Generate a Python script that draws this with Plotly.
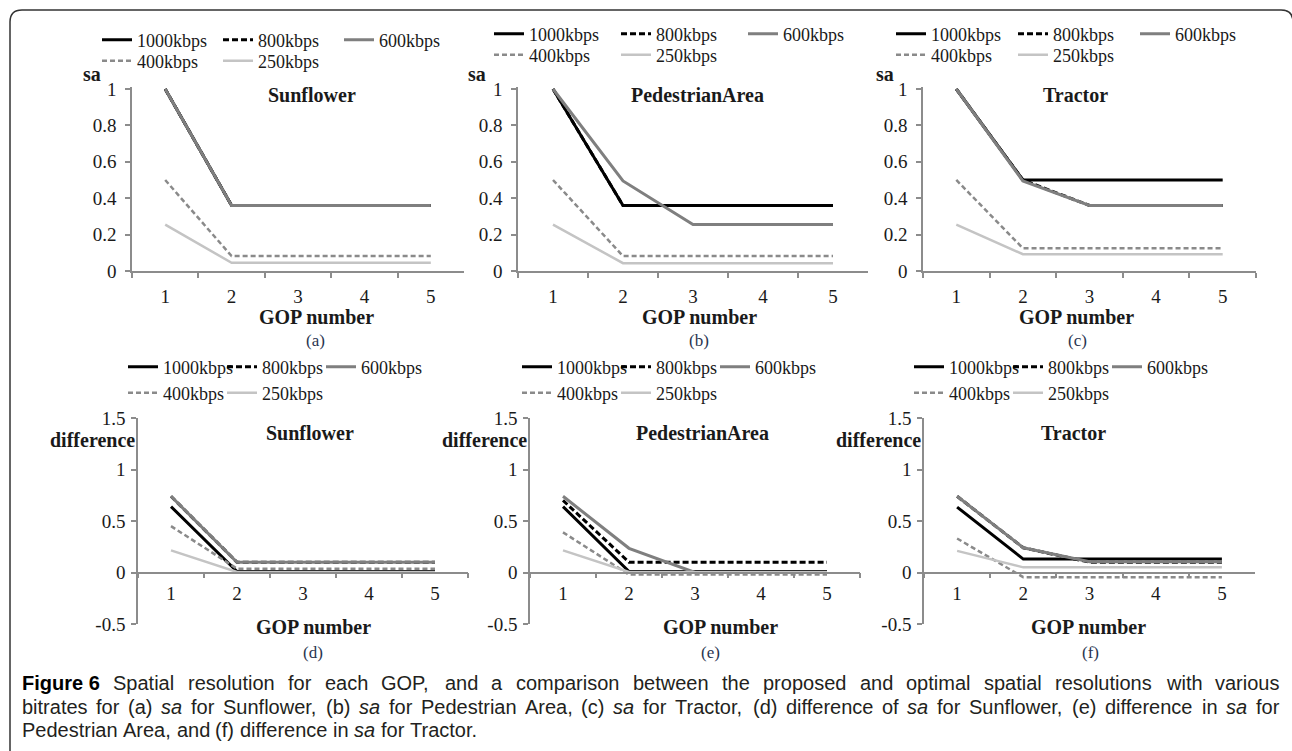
import plotly.graph_objects as go

W, H = 1292, 751

# ---------------- data ----------------
gop = ["1", "2", "3", "4", "5"]
bitrates = ["1000kbps", "800kbps", "600kbps", "400kbps", "250kbps"]

# (a) sa for Sunflower
sa_sun_1000 = [1.0, 0.36, 0.36, 0.36, 0.36]
sa_sun_800 = [1.0, 0.36, 0.36, 0.36, 0.36]
sa_sun_600 = [1.0, 0.36, 0.36, 0.36, 0.36]
sa_sun_400 = [0.5, 0.082, 0.082, 0.082, 0.082]
sa_sun_250 = [0.255, 0.045, 0.045, 0.045, 0.045]

# (b) sa for PedestrianArea
sa_ped_1000 = [1.0, 0.36, 0.36, 0.36, 0.36]
sa_ped_800 = [1.0, 0.36, 0.36, 0.36, 0.36]
sa_ped_600 = [1.0, 0.495, 0.255, 0.255, 0.255]
sa_ped_400 = [0.5, 0.082, 0.082, 0.082, 0.082]
sa_ped_250 = [0.255, 0.043, 0.043, 0.043, 0.043]

# (c) sa for Tractor
sa_tra_1000 = [1.0, 0.5, 0.5, 0.5, 0.5]
sa_tra_800 = [1.0, 0.5, 0.36, 0.36, 0.36]
sa_tra_600 = [1.0, 0.495, 0.36, 0.36, 0.36]
sa_tra_400 = [0.5, 0.125, 0.125, 0.125, 0.125]
sa_tra_250 = [0.255, 0.092, 0.092, 0.092, 0.092]

# (d) difference for Sunflower
df_sun_1000 = [0.64, 0.01, 0.01, 0.01, 0.01]
df_sun_800 = [0.74, 0.1, 0.1, 0.1, 0.1]
df_sun_600 = [0.74, 0.1, 0.1, 0.1, 0.1]
df_sun_400 = [0.45, 0.037, 0.037, 0.037, 0.037]
df_sun_250 = [0.215, 0.005, 0.005, 0.005, 0.005]

# (e) difference for PedestrianArea
df_ped_1000 = [0.64, 0.01, 0.01, 0.01, 0.01]
df_ped_800 = [0.7, 0.1, 0.1, 0.1, 0.1]
df_ped_600 = [0.74, 0.235, 0.0, 0.0, 0.0]
df_ped_400 = [0.39, -0.02, -0.02, -0.02, -0.02]
df_ped_250 = [0.215, 0.005, 0.005, 0.005, 0.005]

# (f) difference for Tractor
df_tra_1000 = [0.635, 0.13, 0.13, 0.13, 0.13]
df_tra_800 = [0.74, 0.24, 0.1, 0.1, 0.1]
df_tra_600 = [0.74, 0.24, 0.105, 0.105, 0.105]
df_tra_400 = [0.33, -0.045, -0.045, -0.045, -0.045]
df_tra_250 = [0.21, 0.05, 0.05, 0.05, 0.05]

sa_ticks = [0, 0.2, 0.4, 0.6, 0.8, 1]
sa_ticktext = ["0", "0.2", "0.4", "0.6", "0.8", "1"]
df_ticks = [-0.5, 0, 0.5, 1, 1.5]
df_ticktext = ["-0.5", "0", "0.5", "1", "1.5"]

panels = [
    dict(series=[sa_sun_1000, sa_sun_800, sa_sun_600, sa_sun_400, sa_sun_250],
         title="Sunflower", label="(a)", kind="sa"),
    dict(series=[sa_ped_1000, sa_ped_800, sa_ped_600, sa_ped_400, sa_ped_250],
         title="PedestrianArea", label="(b)", kind="sa"),
    dict(series=[sa_tra_1000, sa_tra_800, sa_tra_600, sa_tra_400, sa_tra_250],
         title="Tractor", label="(c)", kind="sa"),
    dict(series=[df_sun_1000, df_sun_800, df_sun_600, df_sun_400, df_sun_250],
         title="Sunflower", label="(d)", kind="df"),
    dict(series=[df_ped_1000, df_ped_800, df_ped_600, df_ped_400, df_ped_250],
         title="PedestrianArea", label="(e)", kind="df"),
    dict(series=[df_tra_1000, df_tra_800, df_tra_600, df_tra_400, df_tra_250],
         title="Tractor", label="(f)", kind="df"),
]

caption_lines = [
    [("b", "Figure 6"), ("r", "Spatial resolution for each GOP, and a comparison between the proposed and optimal spatial resolutions with various")],
    [("r", "bitrates for (a)"), ("i", "sa"), ("r", "for Sunflower, (b)"), ("i", "sa"), ("r", "for Pedestrian Area, (c)"), ("i", "sa"),
     ("r", "for Tractor, (d) difference of"), ("i", "sa"), ("r", "for Sunflower, (e) difference in"), ("i", "sa"), ("r", "for")],
    [("r", "Pedestrian Area, and (f) difference in"), ("i", "sa"), ("r", "for Tractor.")],
]

# ---------------- layout (pixel geometry) ----------------
def px(x):
    return x / W

def py(y):
    return 1 - y / H

x_ext = [(132, 464), (518, 868), (923, 1256), (138, 468), (530, 860), (924, 1255)]
layout_px = [
    dict(title=(312, 95), ylab=(92, 74), gop=(316, 317), lab=(315, 341), leg_x=135, leg_y=(40, 61), step=122),
    dict(title=(697, 95), ylab=(477, 74), gop=(699, 317), lab=(699, 341), leg_x=527, leg_y=(34, 55), step=128),
    dict(title=(1075, 95), ylab=(885, 74), gop=(1076, 317), lab=(1077, 341), leg_x=929, leg_y=(34, 55), step=123),
    dict(title=(310, 433), ylab=(137, 440), gop=(313, 627), lab=(313, 652), leg_x=161, leg_y=(367, 393), step=100),
    dict(title=(703, 433), ylab=(529, 440), gop=(720, 627), lab=(710, 652), leg_x=555, leg_y=(367, 393), step=100),
    dict(title=(1073, 433), ylab=(923, 440), gop=(1088, 627), lab=(1090, 652), leg_x=947, leg_y=(367, 393), step=100),
]

styles = [
    dict(color="#000000", width=3, dash="solid"),
    dict(color="#000000", width=3, dash="6px,3px"),
    dict(color="#7f7f7f", width=3, dash="solid"),
    dict(color="#8a8a8a", width=2.5, dash="5px,3px"),
    dict(color="#c4c4c4", width=2.5, dash="solid"),
]

SERIF = "Liberation Serif, Times New Roman, serif"
AXIS_COL = "#8c8c8c"
TXT = "#1a1a1a"

fig = go.Figure()
layout = dict(
    width=W, height=H, autosize=False,
    margin=dict(l=0, r=0, t=0, b=0, pad=0, autoexpand=False),
    paper_bgcolor="white", plot_bgcolor="white",
    font=dict(family=SERIF, size=18, color=TXT),
    annotations=[], shapes=[],
)

top_ppu = 271 - 89
top_range = [0, 1.012]
top_dom = [py(271), py(271 - top_range[1] * top_ppu)]
bot_range = [-0.5, 1.5]
bot_dom = [py(624), py(418)]
bot_zero = bot_dom[0] + (0 - bot_range[0]) / (bot_range[1] - bot_range[0]) * (bot_dom[1] - bot_dom[0])

for i, p in enumerate(panels):
    k = i + 1
    xa = "x" if k == 1 else f"x{k}"
    ya = "y" if k == 1 else f"y{k}"
    xkey = "xaxis" if k == 1 else f"xaxis{k}"
    ykey = "yaxis" if k == 1 else f"yaxis{k}"
    L = layout_px[i]
    leg1 = "legend" if k == 1 else f"legend{2 * k - 1}"
    leg2 = f"legend{2 * k}"

    for j, (name, vals) in enumerate(zip(bitrates, p["series"])):
        st = styles[j]
        last_in_row = j in (2, 4)
        fig.add_trace(go.Scatter(
            x=gop, y=vals, name=name, mode="lines",
            line=dict(color=st["color"], width=st["width"], dash=st["dash"]),
            xaxis=xa, yaxis=ya,
            legend=leg1 if j < 3 else leg2,
            legendwidth=90 if last_in_row else None,
            showlegend=True, hoverinfo="x+y+name",
        ))

    x0, x1 = x_ext[i]
    is_sa = p["kind"] == "sa"
    xaxis = dict(
        domain=[px(x0), px(x1)], type="category", range=[-0.5, 4.5],
        showline=True, linecolor=AXIS_COL, linewidth=1.5,
        ticks="outside", tickson="boundaries", ticklen=5, tickcolor=AXIS_COL, tickwidth=1.5,
        showgrid=False, zeroline=False, anchor=ya, automargin=False,
        tickfont=dict(family=SERIF, size=19, color=TXT),
        ticklabelstandoff=7, fixedrange=True,
    )
    if is_sa:
        yaxis = dict(domain=top_dom, range=top_range, tickvals=sa_ticks, ticktext=sa_ticktext)
    else:
        yaxis = dict(domain=bot_dom, range=bot_range, tickvals=df_ticks, ticktext=df_ticktext)
        xaxis.update(anchor="free", position=bot_zero, ticklabelstandoff=4)
    yaxis.update(
        showline=True, linecolor=AXIS_COL, linewidth=1.5,
        ticks="outside", ticklen=5, tickcolor=AXIS_COL, tickwidth=1.5,
        showgrid=False, zeroline=False, anchor=xa, automargin=False,
        tickfont=dict(family=SERIF, size=19, color=TXT),
        ticklabelstandoff=5 if is_sa else 2, fixedrange=True,
    )
    layout[xkey] = xaxis
    layout[ykey] = yaxis

    legcommon = dict(
        orientation="h", xanchor="left", yanchor="middle",
        bgcolor="rgba(0,0,0,0)", borderwidth=0,
        font=dict(family=SERIF, size=18, color=TXT),
        entrywidthmode="pixels", entrywidth=L["step"] - 46,
        itemwidth=30, tracegroupgap=0, traceorder="normal",
        itemclick=False, itemdoubleclick=False,
    )
    layout[leg1] = dict(legcommon, x=px(L["leg_x"] - 38), y=py(L["leg_y"][0]))
    layout[leg2] = dict(legcommon, x=px(L["leg_x"] - 38), y=py(L["leg_y"][1]))

    ann = layout["annotations"]
    bold = dict(family=SERIF, size=20, color=TXT)
    ann.append(dict(text=f"<b>{p['title']}</b>", x=px(L["title"][0]), y=py(L["title"][1]),
                    xref="paper", yref="paper", showarrow=False, font=bold,
                    xanchor="center", yanchor="middle"))
    if is_sa:
        ann.append(dict(text="<b>sa</b>", x=px(L["ylab"][0]), y=py(L["ylab"][1]),
                        xref="paper", yref="paper", showarrow=False, font=bold,
                        xanchor="center", yanchor="middle"))
    else:
        ann.append(dict(text="<b>difference</b>", x=px(L["ylab"][0]), y=py(L["ylab"][1]),
                        xref="paper", yref="paper", showarrow=False, font=bold,
                        xanchor="right", yanchor="middle"))
    ann.append(dict(text="<b>GOP number</b>", x=px(L["gop"][0]), y=py(L["gop"][1]),
                    xref="paper", yref="paper", showarrow=False,
                    font=dict(family=SERIF, size=20, color=TXT),
                    xanchor="center", yanchor="middle"))
    ann.append(dict(text=p["label"], x=px(L["lab"][0]), y=py(L["lab"][1]),
                    xref="paper", yref="paper", showarrow=False,
                    font=dict(family=SERIF, size=17, color="#2a3550"),
                    xanchor="center", yanchor="middle"))

# ---------------- caption (justified lines, Arial-metric width estimate) ----------------
CAP = "Liberation Sans, Arial, sans-serif"
CAP_SIZE = 20
AW = {' ': 278, '!': 278, '(': 333, ')': 333, ',': 278, '-': 333, '.': 278,
      'A': 667, 'B': 667, 'C': 722, 'D': 722, 'E': 667, 'F': 611, 'G': 778, 'H': 722, 'I': 278,
      'J': 500, 'K': 667, 'L': 556, 'M': 833, 'N': 722, 'O': 778, 'P': 667, 'Q': 778, 'R': 722,
      'S': 667, 'T': 611, 'U': 722, 'V': 667, 'W': 944, 'X': 667, 'Y': 667, 'Z': 611,
      'a': 556, 'b': 556, 'c': 500, 'd': 556, 'e': 556, 'f': 278, 'g': 556, 'h': 556, 'i': 222,
      'j': 222, 'k': 500, 'l': 222, 'm': 833, 'n': 556, 'o': 556, 'p': 556, 'q': 556, 'r': 333,
      's': 500, 't': 278, 'u': 556, 'v': 500, 'w': 722, 'x': 500, 'y': 500, 'z': 500}
BW = dict(AW, **{'i': 278, 'g': 611, 'u': 611, 'r': 389, 'F': 611})

def est_width(word, style):
    tbl = BW if style == "b" else AW
    return sum(tbl.get(c, 556) for c in word) * CAP_SIZE / 1000.0

cap_left, cap_right = 20, 1277
cap_y = [683, 707, 730]
for li, segs in enumerate(caption_lines):
    words = []
    for style, txt in segs:
        if style == "b":
            words.append((style, txt))
        else:
            for w_ in txt.split(" "):
                words.append((style, w_))
    widths = [est_width(w_, s) for s, w_ in words]
    space = AW[' '] * CAP_SIZE / 1000.0
    if li < 2:
        gap = (cap_right - cap_left - sum(widths)) / (len(words) - 1)
    else:
        gap = space
    xcur = cap_left
    for (s, w_), wd in zip(words, widths):
        if s == "b":
            t = f"<b>{w_}</b>"
            col = "#000000"
        elif s == "i":
            t = f"<i>{w_}</i>"
            col = "#231f20"
        else:
            t = w_
            col = "#231f20"
        layout["annotations"].append(dict(
            text=t, x=px(xcur), y=py(cap_y[li]), xref="paper", yref="paper", showarrow=False,
            xanchor="left", yanchor="middle", align="left",
            font=dict(family=CAP, size=CAP_SIZE, color=col),
        ))
        xcur += wd + gap

# outer rounded frame (right side runs just off the page edge)
r = 12
xl, xr, yt = 10, 1293, 10
path = (f"M {px(xl)},{py(H + 5)} L {px(xl)},{py(yt + r)} Q {px(xl)},{py(yt)} {px(xl + r)},{py(yt)} "
        f"L {px(xr - r)},{py(yt)} Q {px(xr)},{py(yt)} {px(xr)},{py(yt + r)} L {px(xr)},{py(H + 5)}")
layout["shapes"].append(dict(type="path", path=path, xref="paper", yref="paper",
                             line=dict(color="#333333", width=1.5)))

fig.update_layout(**layout)
fig.write_html("out.html", config={"displayModeBar": False},
               post_script="document.body.style.margin='0';document.body.style.overflow='hidden';")
